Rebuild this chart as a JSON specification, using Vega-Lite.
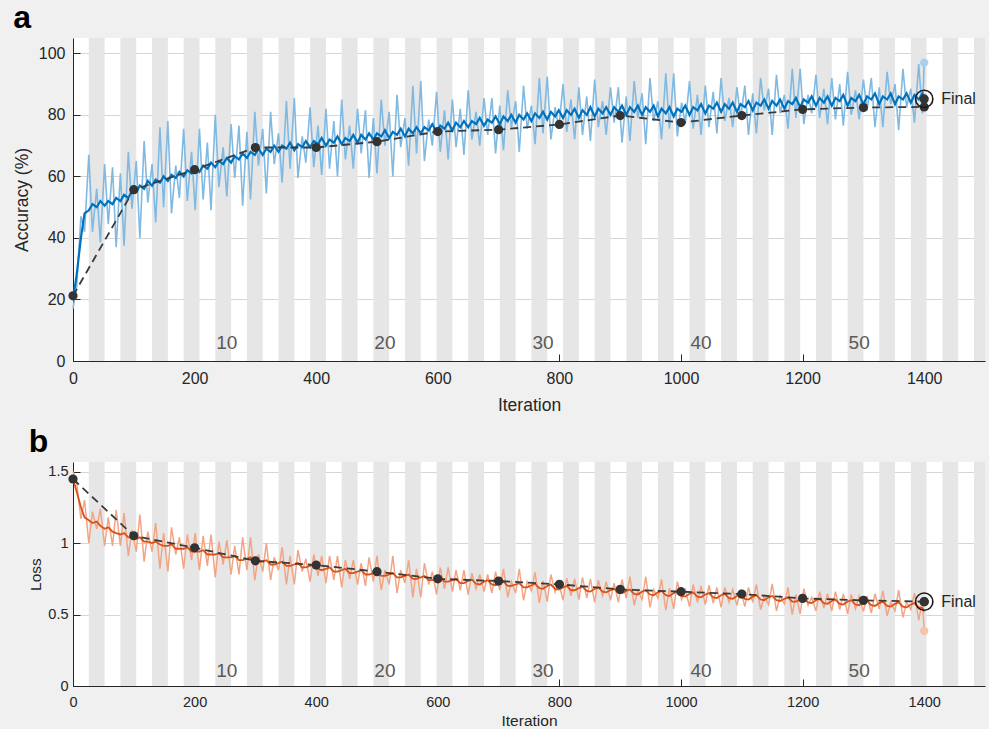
{
  "$schema": "https://vega.github.io/schema/vega-lite/v6.json",
  "background": "#f0f0f0",
  "padding": {"left": 13, "top": 2, "right": 4, "bottom": 0},
  "spacing": 12,
  "config": {
    "font": "Liberation Sans",
    "view": {"fill": "white", "stroke": null},
    "axis": {
      "domainColor": "#262626", "tickColor": "#262626", "tickSize": -7, "tickWidth": 1,
      "labelColor": "#262626", "labelFontSize": 16, "labelFont": "Liberation Sans", "labelFlush": false,
      "titleColor": "#262626", "titleFontSize": 17.5, "titleFontWeight": "normal", "titleFont": "Liberation Sans",
      "gridColor": "#d6d6d6", "gridWidth": 1, "zindex": 1
    },
    "axisX": {"grid": false, "labelPadding": 16, "titlePadding": 10, "format": "d"},
    "axisY": {"grid": true, "labelPadding": 15, "titlePadding": 7},
    "title": {"fontSize": 32, "fontWeight": "bold", "anchor": "start", "frame": "bounds", "color": "#000000", "offset": 3, "font": "Liberation Sans"}
  },
  "datasets": {
    "bands": [
      {"start": 26, "end": 52}, {"start": 78, "end": 104}, {"start": 130, "end": 156}, {"start": 182, "end": 208},
      {"start": 234, "end": 260}, {"start": 286, "end": 312}, {"start": 338, "end": 364}, {"start": 390, "end": 416},
      {"start": 442, "end": 468}, {"start": 494, "end": 520}, {"start": 546, "end": 572}, {"start": 598, "end": 624},
      {"start": 650, "end": 676}, {"start": 702, "end": 728}, {"start": 754, "end": 780}, {"start": 806, "end": 832},
      {"start": 858, "end": 884}, {"start": 910, "end": 936}, {"start": 962, "end": 988}, {"start": 1014, "end": 1040},
      {"start": 1066, "end": 1092}, {"start": 1118, "end": 1144}, {"start": 1170, "end": 1196}, {"start": 1222, "end": 1248},
      {"start": 1274, "end": 1300}, {"start": 1326, "end": 1352}, {"start": 1378, "end": 1404}, {"start": 1430, "end": 1456},
      {"start": 1482, "end": 1500}
    ],
    "epochs": [
      {"it": 253, "epoch": "10"}, {"it": 513, "epoch": "20"}, {"it": 773, "epoch": "30"}, {"it": 1033, "epoch": "40"}, {"it": 1293, "epoch": "50"}
    ],
    "val": [
      {"it": 0, "acc": 21.2, "loss": 1.448}, {"it": 100, "acc": 55.7, "loss": 1.051}, {"it": 200, "acc": 62.2, "loss": 0.967},
      {"it": 300, "acc": 69.4, "loss": 0.876}, {"it": 400, "acc": 69.4, "loss": 0.846}, {"it": 500, "acc": 71.3, "loss": 0.8},
      {"it": 600, "acc": 74.6, "loss": 0.75}, {"it": 700, "acc": 75.2, "loss": 0.734}, {"it": 800, "acc": 76.9, "loss": 0.711},
      {"it": 900, "acc": 79.8, "loss": 0.676}, {"it": 1000, "acc": 77.5, "loss": 0.66}, {"it": 1100, "acc": 79.8, "loss": 0.643},
      {"it": 1200, "acc": 81.8, "loss": 0.613}, {"it": 1300, "acc": 82.4, "loss": 0.599}, {"it": 1400, "acc": 82.6, "loss": 0.59}
    ],
    "final": [
      {"it": 1400, "valAcc": 85.2, "trainAcc": 97, "valLoss": 0.59, "trainLoss": 0.385, "label": "Final"}
    ],
    "train": [
      {"it":0,"acc":17,"accS":20,"loss":1.5,"lossS":1.45},
      {"it":6,"acc":24,"accS":28,"loss":1.42,"lossS":1.36},
      {"it":13,"acc":47,"accS":40,"loss":1.17,"lossS":1.25},
      {"it":19,"acc":42,"accS":48,"loss":1.3,"lossS":1.18},
      {"it":26,"acc":67,"accS":49,"loss":1.0,"lossS":1.16},
      {"it":32,"acc":42,"accS":51,"loss":1.22,"lossS":1.14},
      {"it":39,"acc":56,"accS":50,"loss":1.1,"lossS":1.15},
      {"it":45,"acc":38.5,"accS":52,"loss":1.24,"lossS":1.12},
      {"it":52,"acc":64,"accS":50.5,"loss":0.98,"lossS":1.1},
      {"it":58,"acc":44.5,"accS":52,"loss":1.18,"lossS":1.11},
      {"it":65,"acc":63,"accS":51,"loss":0.98,"lossS":1.08},
      {"it":71,"acc":37,"accS":53,"loss":1.23,"lossS":1.07},
      {"it":78,"acc":61,"accS":52,"loss":0.98,"lossS":1.06},
      {"it":84,"acc":37.5,"accS":54,"loss":1.21,"lossS":1.07},
      {"it":91,"acc":68,"accS":53,"loss":0.91,"lossS":1.04},
      {"it":97,"acc":49.5,"accS":55.5,"loss":1.09,"lossS":1.04},
      {"it":104,"acc":65,"accS":55,"loss":0.94,"lossS":1.03},
      {"it":110,"acc":40,"accS":57,"loss":1.2,"lossS":1.04},
      {"it":117,"acc":71.5,"accS":56,"loss":0.87,"lossS":1.01},
      {"it":123,"acc":51.5,"accS":58.5,"loss":1.08,"lossS":1.01},
      {"it":130,"acc":64,"accS":57,"loss":0.94,"lossS":1.0},
      {"it":136,"acc":45,"accS":59,"loss":1.14,"lossS":1.01},
      {"it":143,"acc":76,"accS":58,"loss":0.82,"lossS":0.99},
      {"it":149,"acc":50,"accS":60,"loss":1.07,"lossS":0.98},
      {"it":156,"acc":78,"accS":58.5,"loss":0.8,"lossS":0.98},
      {"it":162,"acc":48,"accS":60.5,"loss":1.11,"lossS":0.99},
      {"it":169,"acc":63.5,"accS":59.5,"loss":0.92,"lossS":0.96},
      {"it":175,"acc":53,"accS":61.5,"loss":1.04,"lossS":0.96},
      {"it":182,"acc":75.5,"accS":60,"loss":0.82,"lossS":0.96},
      {"it":188,"acc":52,"accS":62,"loss":1.06,"lossS":0.97},
      {"it":195,"acc":68,"accS":61,"loss":0.88,"lossS":0.94},
      {"it":201,"acc":49,"accS":63,"loss":1.07,"lossS":0.94},
      {"it":208,"acc":75.5,"accS":61.5,"loss":0.81,"lossS":0.94},
      {"it":214,"acc":52.5,"accS":63.5,"loss":1.05,"lossS":0.95},
      {"it":221,"acc":71,"accS":62.5,"loss":0.84,"lossS":0.92},
      {"it":227,"acc":49,"accS":64.5,"loss":1.06,"lossS":0.92},
      {"it":234,"acc":80,"accS":63,"loss":0.76,"lossS":0.92},
      {"it":240,"acc":56.5,"accS":65,"loss":1.01,"lossS":0.93},
      {"it":247,"acc":69.5,"accS":64,"loss":0.85,"lossS":0.9},
      {"it":253,"acc":53.5,"accS":66,"loss":1.02,"lossS":0.9},
      {"it":260,"acc":77,"accS":64.5,"loss":0.78,"lossS":0.9},
      {"it":266,"acc":59.5,"accS":66.5,"loss":0.98,"lossS":0.91},
      {"it":273,"acc":76.5,"accS":65.5,"loss":0.78,"lossS":0.88},
      {"it":279,"acc":50.5,"accS":67.5,"loss":1.04,"lossS":0.88},
      {"it":286,"acc":74.5,"accS":66,"loss":0.81,"lossS":0.89},
      {"it":292,"acc":52.5,"accS":68,"loss":1.04,"lossS":0.9},
      {"it":299,"acc":81,"accS":67,"loss":0.74,"lossS":0.87},
      {"it":305,"acc":63.5,"accS":69,"loss":0.92,"lossS":0.87},
      {"it":312,"acc":75.5,"accS":67,"loss":0.8,"lossS":0.87},
      {"it":318,"acc":54.5,"accS":69,"loss":1.0,"lossS":0.88},
      {"it":325,"acc":81,"accS":68,"loss":0.74,"lossS":0.85},
      {"it":331,"acc":64,"accS":70,"loss":0.9,"lossS":0.85},
      {"it":338,"acc":74,"accS":68,"loss":0.81,"lossS":0.86},
      {"it":344,"acc":58,"accS":70,"loss":0.97,"lossS":0.87},
      {"it":351,"acc":84.5,"accS":69,"loss":0.71,"lossS":0.84},
      {"it":357,"acc":62.5,"accS":71,"loss":0.91,"lossS":0.84},
      {"it":364,"acc":85.5,"accS":68.5,"loss":0.71,"lossS":0.85},
      {"it":370,"acc":59.5,"accS":70.5,"loss":0.95,"lossS":0.86},
      {"it":377,"acc":73,"accS":69.5,"loss":0.8,"lossS":0.83},
      {"it":383,"acc":64.5,"accS":71.5,"loss":0.89,"lossS":0.83},
      {"it":390,"acc":82.5,"accS":69.5,"loss":0.73,"lossS":0.84},
      {"it":396,"acc":63,"accS":71.5,"loss":0.92,"lossS":0.85},
      {"it":403,"acc":76.5,"accS":70.5,"loss":0.77,"lossS":0.82},
      {"it":409,"acc":60.5,"accS":72.5,"loss":0.91,"lossS":0.81},
      {"it":416,"acc":82,"accS":70,"loss":0.72,"lossS":0.82},
      {"it":422,"acc":62.5,"accS":72,"loss":0.91,"lossS":0.83},
      {"it":429,"acc":78,"accS":71,"loss":0.74,"lossS":0.8},
      {"it":435,"acc":60,"accS":73,"loss":0.91,"lossS":0.8},
      {"it":442,"acc":85,"accS":70.5,"loss":0.69,"lossS":0.81},
      {"it":448,"acc":65.5,"accS":72.5,"loss":0.88,"lossS":0.82},
      {"it":455,"acc":76.5,"accS":71.5,"loss":0.75,"lossS":0.79},
      {"it":461,"acc":62.5,"accS":73.5,"loss":0.88,"lossS":0.79},
      {"it":468,"acc":82,"accS":71,"loss":0.71,"lossS":0.8},
      {"it":474,"acc":67.5,"accS":73.5,"loss":0.86,"lossS":0.81},
      {"it":481,"acc":81.5,"accS":72,"loss":0.7,"lossS":0.78},
      {"it":487,"acc":59.5,"accS":74,"loss":0.9,"lossS":0.78},
      {"it":494,"acc":79,"accS":72,"loss":0.73,"lossS":0.79},
      {"it":500,"acc":61,"accS":74,"loss":0.91,"lossS":0.8},
      {"it":507,"acc":85,"accS":73,"loss":0.67,"lossS":0.77},
      {"it":513,"acc":70,"accS":75,"loss":0.81,"lossS":0.77},
      {"it":520,"acc":81,"accS":72.5,"loss":0.71,"lossS":0.78},
      {"it":526,"acc":60,"accS":74.5,"loss":0.91,"lossS":0.79},
      {"it":533,"acc":86.5,"accS":73.5,"loss":0.65,"lossS":0.76},
      {"it":539,"acc":69.5,"accS":75.5,"loss":0.81,"lossS":0.76},
      {"it":546,"acc":79,"accS":73,"loss":0.72,"lossS":0.77},
      {"it":552,"acc":63.5,"accS":75.5,"loss":0.88,"lossS":0.78},
      {"it":559,"acc":89.5,"accS":74,"loss":0.62,"lossS":0.75},
      {"it":565,"acc":67.5,"accS":76,"loss":0.82,"lossS":0.75},
      {"it":572,"acc":91,"accS":74,"loss":0.62,"lossS":0.76},
      {"it":578,"acc":65,"accS":76,"loss":0.86,"lossS":0.77},
      {"it":585,"acc":78.5,"accS":75,"loss":0.71,"lossS":0.74},
      {"it":591,"acc":70,"accS":77,"loss":0.8,"lossS":0.74},
      {"it":598,"acc":87.5,"accS":74.5,"loss":0.64,"lossS":0.75},
      {"it":604,"acc":68,"accS":76.5,"loss":0.83,"lossS":0.76},
      {"it":611,"acc":81.5,"accS":75.5,"loss":0.68,"lossS":0.73},
      {"it":617,"acc":65.5,"accS":77.5,"loss":0.83,"lossS":0.73},
      {"it":624,"acc":85,"accS":75,"loss":0.66,"lossS":0.74},
      {"it":630,"acc":69.5,"accS":77.5,"loss":0.81,"lossS":0.75},
      {"it":637,"acc":82,"accS":76,"loss":0.67,"lossS":0.72},
      {"it":643,"acc":67,"accS":78,"loss":0.81,"lossS":0.72},
      {"it":650,"acc":88,"accS":76,"loss":0.64,"lossS":0.735},
      {"it":656,"acc":72,"accS":78,"loss":0.79,"lossS":0.745},
      {"it":663,"acc":81,"accS":77,"loss":0.68,"lossS":0.715},
      {"it":669,"acc":70,"accS":79,"loss":0.78,"lossS":0.71},
      {"it":676,"acc":85.5,"accS":76.5,"loss":0.66,"lossS":0.73},
      {"it":682,"acc":73.5,"accS":78.5,"loss":0.78,"lossS":0.74},
      {"it":689,"acc":85.5,"accS":77.5,"loss":0.65,"lossS":0.71},
      {"it":695,"acc":67.5,"accS":79.5,"loss":0.8,"lossS":0.705},
      {"it":702,"acc":83,"accS":77,"loss":0.67,"lossS":0.72},
      {"it":708,"acc":68.5,"accS":79.5,"loss":0.82,"lossS":0.73},
      {"it":715,"acc":88,"accS":78,"loss":0.62,"lossS":0.7},
      {"it":721,"acc":76,"accS":80,"loss":0.73,"lossS":0.7},
      {"it":728,"acc":84.5,"accS":77.5,"loss":0.65,"lossS":0.71},
      {"it":734,"acc":68,"accS":80,"loss":0.82,"lossS":0.72},
      {"it":741,"acc":89.5,"accS":78.5,"loss":0.6,"lossS":0.69},
      {"it":747,"acc":75.5,"accS":80.5,"loss":0.73,"lossS":0.69},
      {"it":754,"acc":83,"accS":78,"loss":0.665,"lossS":0.705},
      {"it":760,"acc":70.5,"accS":80.5,"loss":0.795,"lossS":0.715},
      {"it":767,"acc":92,"accS":79,"loss":0.58,"lossS":0.685},
      {"it":773,"acc":74,"accS":81,"loss":0.735,"lossS":0.68},
      {"it":780,"acc":92.5,"accS":78.5,"loss":0.59,"lossS":0.7},
      {"it":786,"acc":72,"accS":81,"loss":0.78,"lossS":0.71},
      {"it":793,"acc":82.5,"accS":79.5,"loss":0.655,"lossS":0.68},
      {"it":799,"acc":75.5,"accS":81.5,"loss":0.72,"lossS":0.675},
      {"it":806,"acc":90,"accS":79,"loss":0.6,"lossS":0.69},
      {"it":812,"acc":74.5,"accS":81.5,"loss":0.755,"lossS":0.7},
      {"it":819,"acc":85,"accS":80,"loss":0.63,"lossS":0.67},
      {"it":825,"acc":72,"accS":82,"loss":0.75,"lossS":0.67},
      {"it":832,"acc":89,"accS":79,"loss":0.605,"lossS":0.685},
      {"it":838,"acc":73.5,"accS":81.5,"loss":0.76,"lossS":0.695},
      {"it":845,"acc":86,"accS":80,"loss":0.615,"lossS":0.665},
      {"it":851,"acc":71.5,"accS":82.5,"loss":0.75,"lossS":0.66},
      {"it":858,"acc":91.5,"accS":79.5,"loss":0.585,"lossS":0.68},
      {"it":864,"acc":76,"accS":82,"loss":0.74,"lossS":0.69},
      {"it":871,"acc":84.5,"accS":80.5,"loss":0.63,"lossS":0.66},
      {"it":877,"acc":73.5,"accS":82.5,"loss":0.73,"lossS":0.655},
      {"it":884,"acc":89,"accS":80,"loss":0.6,"lossS":0.67},
      {"it":890,"acc":77.5,"accS":82.5,"loss":0.72,"lossS":0.68},
      {"it":897,"acc":89,"accS":81,"loss":0.585,"lossS":0.65},
      {"it":903,"acc":71,"accS":83,"loss":0.745,"lossS":0.65},
      {"it":910,"acc":86,"accS":80,"loss":0.615,"lossS":0.665},
      {"it":916,"acc":71.5,"accS":82.5,"loss":0.765,"lossS":0.675},
      {"it":923,"acc":91,"accS":81,"loss":0.565,"lossS":0.645},
      {"it":929,"acc":79,"accS":83,"loss":0.67,"lossS":0.64},
      {"it":936,"acc":87,"accS":80,"loss":0.605,"lossS":0.66},
      {"it":942,"acc":70.5,"accS":82.5,"loss":0.765,"lossS":0.67},
      {"it":949,"acc":92,"accS":81,"loss":0.55,"lossS":0.64},
      {"it":955,"acc":78,"accS":83,"loss":0.675,"lossS":0.635},
      {"it":962,"acc":84.5,"accS":79.5,"loss":0.615,"lossS":0.655},
      {"it":968,"acc":72,"accS":82,"loss":0.745,"lossS":0.665},
      {"it":975,"acc":93.5,"accS":80.5,"loss":0.53,"lossS":0.635},
      {"it":981,"acc":75.5,"accS":82.5,"loss":0.685,"lossS":0.63},
      {"it":988,"acc":93.5,"accS":79.5,"loss":0.54,"lossS":0.65},
      {"it":994,"acc":73,"accS":82,"loss":0.73,"lossS":0.66},
      {"it":1001,"acc":84,"accS":81,"loss":0.605,"lossS":0.63},
      {"it":1007,"acc":77,"accS":83,"loss":0.675,"lossS":0.625},
      {"it":1014,"acc":91,"accS":80,"loss":0.555,"lossS":0.645},
      {"it":1020,"acc":75.5,"accS":82.5,"loss":0.71,"lossS":0.655},
      {"it":1027,"acc":86.5,"accS":81.5,"loss":0.585,"lossS":0.625},
      {"it":1033,"acc":73.5,"accS":83.5,"loss":0.7,"lossS":0.62},
      {"it":1040,"acc":89.5,"accS":80.5,"loss":0.57,"lossS":0.64},
      {"it":1046,"acc":76,"accS":83,"loss":0.705,"lossS":0.65},
      {"it":1053,"acc":87.5,"accS":82,"loss":0.58,"lossS":0.62},
      {"it":1059,"acc":74,"accS":84,"loss":0.69,"lossS":0.615},
      {"it":1066,"acc":92,"accS":81,"loss":0.55,"lossS":0.635},
      {"it":1072,"acc":78,"accS":83.5,"loss":0.69,"lossS":0.645},
      {"it":1079,"acc":85.5,"accS":82,"loss":0.585,"lossS":0.615},
      {"it":1085,"acc":76,"accS":84,"loss":0.675,"lossS":0.61},
      {"it":1092,"acc":89,"accS":81,"loss":0.565,"lossS":0.63},
      {"it":1098,"acc":79,"accS":83.5,"loss":0.675,"lossS":0.64},
      {"it":1105,"acc":89.5,"accS":82.5,"loss":0.555,"lossS":0.61},
      {"it":1111,"acc":73.5,"accS":84.5,"loss":0.69,"lossS":0.605},
      {"it":1118,"acc":87,"accS":81.5,"loss":0.585,"lossS":0.625},
      {"it":1124,"acc":74,"accS":84,"loss":0.71,"lossS":0.635},
      {"it":1131,"acc":92,"accS":83,"loss":0.535,"lossS":0.605},
      {"it":1137,"acc":81.5,"accS":85,"loss":0.63,"lossS":0.6},
      {"it":1144,"acc":88.5,"accS":82,"loss":0.57,"lossS":0.62},
      {"it":1150,"acc":73.5,"accS":84.5,"loss":0.715,"lossS":0.63},
      {"it":1157,"acc":93,"accS":83,"loss":0.525,"lossS":0.6},
      {"it":1163,"acc":80.5,"accS":85,"loss":0.63,"lossS":0.595},
      {"it":1170,"acc":86.5,"accS":82,"loss":0.575,"lossS":0.61},
      {"it":1176,"acc":75.5,"accS":84.5,"loss":0.69,"lossS":0.62},
      {"it":1183,"acc":95,"accS":83.5,"loss":0.5,"lossS":0.59},
      {"it":1189,"acc":79,"accS":85.5,"loss":0.64,"lossS":0.59},
      {"it":1196,"acc":95,"accS":82.5,"loss":0.505,"lossS":0.605},
      {"it":1202,"acc":77,"accS":85,"loss":0.68,"lossS":0.615},
      {"it":1209,"acc":86.5,"accS":84,"loss":0.565,"lossS":0.585},
      {"it":1215,"acc":80.5,"accS":86,"loss":0.62,"lossS":0.58},
      {"it":1222,"acc":93,"accS":83,"loss":0.525,"lossS":0.6},
      {"it":1228,"acc":79,"accS":85.5,"loss":0.66,"lossS":0.61},
      {"it":1235,"acc":88.5,"accS":84,"loss":0.545,"lossS":0.58},
      {"it":1241,"acc":77,"accS":86,"loss":0.645,"lossS":0.575},
      {"it":1248,"acc":92,"accS":83,"loss":0.525,"lossS":0.595},
      {"it":1254,"acc":78.5,"accS":85.5,"loss":0.66,"lossS":0.605},
      {"it":1261,"acc":90,"accS":84.5,"loss":0.535,"lossS":0.575},
      {"it":1267,"acc":76.5,"accS":86.5,"loss":0.645,"lossS":0.57},
      {"it":1274,"acc":94,"accS":83,"loss":0.505,"lossS":0.59},
      {"it":1280,"acc":80,"accS":85.5,"loss":0.64,"lossS":0.6},
      {"it":1287,"acc":88,"accS":84.5,"loss":0.54,"lossS":0.57},
      {"it":1293,"acc":78.5,"accS":86.5,"loss":0.63,"lossS":0.565},
      {"it":1300,"acc":91.5,"accS":83.5,"loss":0.52,"lossS":0.585},
      {"it":1306,"acc":81.5,"accS":86,"loss":0.63,"lossS":0.595},
      {"it":1313,"acc":92,"accS":85,"loss":0.51,"lossS":0.565},
      {"it":1319,"acc":76,"accS":87,"loss":0.645,"lossS":0.56},
      {"it":1326,"acc":89,"accS":83.5,"loss":0.54,"lossS":0.58},
      {"it":1332,"acc":76,"accS":86,"loss":0.665,"lossS":0.59},
      {"it":1339,"acc":94,"accS":85,"loss":0.49,"lossS":0.56},
      {"it":1345,"acc":83.5,"accS":87,"loss":0.585,"lossS":0.555},
      {"it":1352,"acc":90,"accS":83.5,"loss":0.525,"lossS":0.575},
      {"it":1358,"acc":75,"accS":86,"loss":0.67,"lossS":0.585},
      {"it":1365,"acc":95,"accS":85,"loss":0.48,"lossS":0.555},
      {"it":1371,"acc":82.5,"accS":87,"loss":0.585,"lossS":0.55},
      {"it":1378,"acc":88.5,"accS":84,"loss":0.535,"lossS":0.57},
      {"it":1384,"acc":77.5,"accS":86.5,"loss":0.65,"lossS":0.58},
      {"it":1391,"acc":96.5,"accS":85,"loss":0.46,"lossS":0.55},
      {"it":1397,"acc":80.5,"accS":87,"loss":0.595,"lossS":0.545},
      {"it":1400,"acc":97,"accS":86,"loss":0.385,"lossS":0.52}
    ]
  },
  "vconcat": [
    {
      "width": 912,
      "height": 323,
      "title": {"text": "a"},
      "layer": [
        {
          "data": {"name": "bands"},
          "mark": {"type": "rect", "color": "#e6e6e6"},
          "encoding": {
            "x": {"field": "start", "type": "quantitative", "title": "Iteration", "scale": {"domain": [0, 1500], "nice": false, "zero": false}, "axis": {"values": [0, 200, 400, 600, 800, 1000, 1200, 1400]}},
            "x2": {"field": "end"}
          }
        },
        {
          "data": {"name": "epochs"},
          "mark": {"type": "text", "fontSize": 19, "color": "#595959", "baseline": "alphabetic", "align": "center"},
          "encoding": {
            "x": {"field": "it", "type": "quantitative", "title": "Iteration"},
            "y": {"datum": 3.9, "type": "quantitative", "title": "Accuracy (%)", "scale": {"domain": [0, 105], "nice": false}, "axis": {"values": [0, 20, 40, 60, 80, 100]}},
            "text": {"field": "epoch"}
          }
        },
        {
          "data": {"name": "train"},
          "mark": {"type": "line", "color": "#80b9e2", "strokeWidth": 1.6},
          "encoding": {
            "x": {"field": "it", "type": "quantitative", "title": "Iteration"},
            "y": {"field": "acc", "type": "quantitative", "title": "Accuracy (%)"}
          }
        },
        {
          "data": {"name": "train"},
          "mark": {"type": "line", "color": "#0072bd", "strokeWidth": 2.2},
          "encoding": {
            "x": {"field": "it", "type": "quantitative", "title": "Iteration"},
            "y": {"field": "accS", "type": "quantitative", "title": "Accuracy (%)"}
          }
        },
        {
          "data": {"name": "val"},
          "mark": {"type": "line", "color": "#3a3a3a", "strokeWidth": 1.8, "strokeDash": [8, 5]},
          "encoding": {
            "x": {"field": "it", "type": "quantitative", "title": "Iteration"},
            "y": {"field": "acc", "type": "quantitative", "title": "Accuracy (%)"}
          }
        },
        {
          "data": {"name": "val"},
          "mark": {"type": "point", "filled": true, "color": "#333333", "size": 85, "opacity": 1},
          "encoding": {
            "x": {"field": "it", "type": "quantitative", "title": "Iteration"},
            "y": {"field": "acc", "type": "quantitative", "title": "Accuracy (%)"}
          }
        },
        {
          "data": {"name": "final"},
          "mark": {"type": "point", "filled": true, "color": "#a8d0ee", "size": 70, "opacity": 1},
          "encoding": {
            "x": {"field": "it", "type": "quantitative", "title": "Iteration"},
            "y": {"field": "trainAcc", "type": "quantitative", "title": "Accuracy (%)"}
          }
        },
        {
          "data": {"name": "final"},
          "mark": {"type": "point", "filled": true, "color": "#333333", "size": 85, "opacity": 1},
          "encoding": {
            "x": {"field": "it", "type": "quantitative", "title": "Iteration"},
            "y": {"field": "valAcc", "type": "quantitative", "title": "Accuracy (%)"}
          }
        },
        {
          "data": {"name": "final"},
          "mark": {"type": "point", "filled": false, "color": "#1a1a1a", "strokeWidth": 1.6, "size": 300, "opacity": 1},
          "encoding": {
            "x": {"field": "it", "type": "quantitative", "title": "Iteration"},
            "y": {"field": "valAcc", "type": "quantitative", "title": "Accuracy (%)"}
          }
        },
        {
          "data": {"name": "final"},
          "mark": {"type": "text", "align": "left", "baseline": "middle", "dx": 17, "fontSize": 16, "color": "#262626"},
          "encoding": {
            "x": {"field": "it", "type": "quantitative", "title": "Iteration"},
            "y": {"field": "valAcc", "type": "quantitative", "title": "Accuracy (%)"},
            "text": {"field": "label"}
          }
        }
      ]
    },
    {
      "width": 912,
      "height": 224,
      "title": {"text": "b"},
      "layer": [
        {
          "data": {"name": "bands"},
          "mark": {"type": "rect", "color": "#e6e6e6"},
          "encoding": {
            "x": {"field": "start", "type": "quantitative", "title": "Iteration", "scale": {"domain": [0, 1500], "nice": false, "zero": false}, "axis": {"values": [0, 200, 400, 600, 800, 1000, 1200, 1400], "labelFontSize": 14.5, "titleFontSize": 15.5, "labelPadding": 16.5, "titlePadding": 4}},
            "x2": {"field": "end"}
          }
        },
        {
          "data": {"name": "epochs"},
          "mark": {"type": "text", "fontSize": 19, "color": "#595959", "baseline": "alphabetic", "align": "center"},
          "encoding": {
            "x": {"field": "it", "type": "quantitative", "title": "Iteration"},
            "y": {"datum": 0.063, "type": "quantitative", "title": "Loss", "scale": {"domain": [0, 1.567], "nice": false}, "axis": {"values": [0, 0.5, 1, 1.5], "format": ".1~f", "labelFontSize": 14.5, "titleFontSize": 15.5, "labelPadding": 12, "titlePadding": 4}},
            "text": {"field": "epoch"}
          }
        },
        {
          "data": {"name": "train"},
          "mark": {"type": "line", "color": "#f2a585", "strokeWidth": 1.5},
          "encoding": {
            "x": {"field": "it", "type": "quantitative", "title": "Iteration"},
            "y": {"field": "loss", "type": "quantitative", "title": "Loss"}
          }
        },
        {
          "data": {"name": "train"},
          "mark": {"type": "line", "color": "#d95319", "strokeWidth": 1.8},
          "encoding": {
            "x": {"field": "it", "type": "quantitative", "title": "Iteration"},
            "y": {"field": "lossS", "type": "quantitative", "title": "Loss"}
          }
        },
        {
          "data": {"name": "val"},
          "mark": {"type": "line", "color": "#3a3a3a", "strokeWidth": 1.8, "strokeDash": [8, 5]},
          "encoding": {
            "x": {"field": "it", "type": "quantitative", "title": "Iteration"},
            "y": {"field": "loss", "type": "quantitative", "title": "Loss"}
          }
        },
        {
          "data": {"name": "val"},
          "mark": {"type": "point", "filled": true, "color": "#333333", "size": 85, "opacity": 1},
          "encoding": {
            "x": {"field": "it", "type": "quantitative", "title": "Iteration"},
            "y": {"field": "loss", "type": "quantitative", "title": "Loss"}
          }
        },
        {
          "data": {"name": "final"},
          "mark": {"type": "point", "filled": true, "color": "#f6c3ad", "size": 70, "opacity": 1},
          "encoding": {
            "x": {"field": "it", "type": "quantitative", "title": "Iteration"},
            "y": {"field": "trainLoss", "type": "quantitative", "title": "Loss"}
          }
        },
        {
          "data": {"name": "final"},
          "mark": {"type": "point", "filled": true, "color": "#333333", "size": 85, "opacity": 1},
          "encoding": {
            "x": {"field": "it", "type": "quantitative", "title": "Iteration"},
            "y": {"field": "valLoss", "type": "quantitative", "title": "Loss"}
          }
        },
        {
          "data": {"name": "final"},
          "mark": {"type": "point", "filled": false, "color": "#1a1a1a", "strokeWidth": 1.6, "size": 300, "opacity": 1},
          "encoding": {
            "x": {"field": "it", "type": "quantitative", "title": "Iteration"},
            "y": {"field": "valLoss", "type": "quantitative", "title": "Loss"}
          }
        },
        {
          "data": {"name": "final"},
          "mark": {"type": "text", "align": "left", "baseline": "middle", "dx": 17, "fontSize": 16, "color": "#262626"},
          "encoding": {
            "x": {"field": "it", "type": "quantitative", "title": "Iteration"},
            "y": {"field": "valLoss", "type": "quantitative", "title": "Loss"},
            "text": {"field": "label"}
          }
        }
      ]
    }
  ]
}
